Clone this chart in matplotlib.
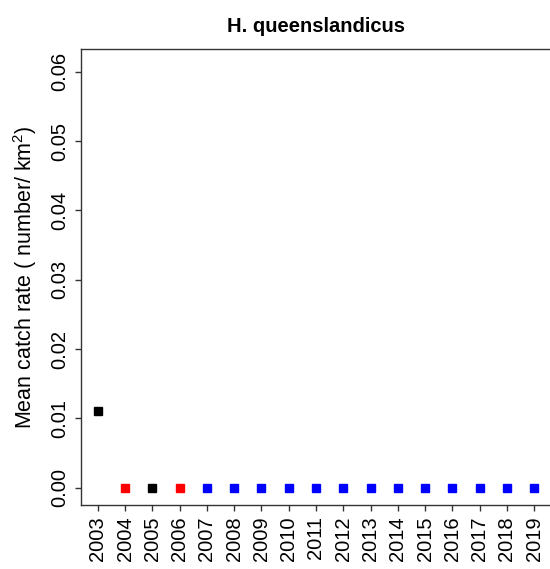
import matplotlib
matplotlib.use("Agg")
import matplotlib.pyplot as plt

plt.rcParams['font.family'] = ['Liberation Sans', 'DejaVu Sans']
plt.rcParams['mathtext.fontset'] = 'custom'
plt.rcParams['mathtext.rm'] = 'Liberation Sans'

years = [2003, 2004, 2005, 2006, 2007, 2008, 2009, 2010, 2011, 2012,
         2013, 2014, 2015, 2016, 2017, 2018, 2019]
catch_rate = [0.011, 0, 0, 0, 0, 0, 0, 0, 0, 0, 0, 0, 0, 0, 0, 0, 0]
colors = ['black', 'red', 'black', 'red'] + ['blue'] * 13
yticks = [0.00, 0.01, 0.02, 0.03, 0.04, 0.05, 0.06]

W, H = 550, 569
fig = plt.figure(figsize=(W / 100, H / 100), dpi=100)
left, right, top, bottom = 80.5, 551.5, 49, 505
ax = fig.add_axes([left / W, 1 - bottom / H, (right - left) / W, (bottom - top) / H])

for x, y, c in zip(years, catch_rate, colors):
    ax.plot([x], [y], marker='s', ms=5.2, color=c, linestyle='none')

ax.set_xlim(2002.36, 2019.64)
ax.set_ylim(-0.0025, 0.0633)
ax.set_xticks(years)
ax.set_xticklabels([str(y) for y in years], rotation=90, fontsize=14.5)
ax.set_yticks(yticks)
ax.set_yticklabels([f"{v:.2f}" for v in yticks], rotation=90, va='center', fontsize=14.5)
ax.tick_params(direction='out', length=4.5, width=1, color='#333333', pad=3.5)
for s in ax.spines.values():
    s.set_color('#333333')
    s.set_linewidth(1)

fig.text(25 / W, 1 - 277.5 / H, "Mean catch rate ( number/ km$^{2}$)", fontsize=15.5,
         rotation=90, ha='center', va='center')
ax.set_title("H. queenslandicus", fontsize=14.5, fontweight='bold', pad=12)

fig.savefig("out.png", dpi=100)
